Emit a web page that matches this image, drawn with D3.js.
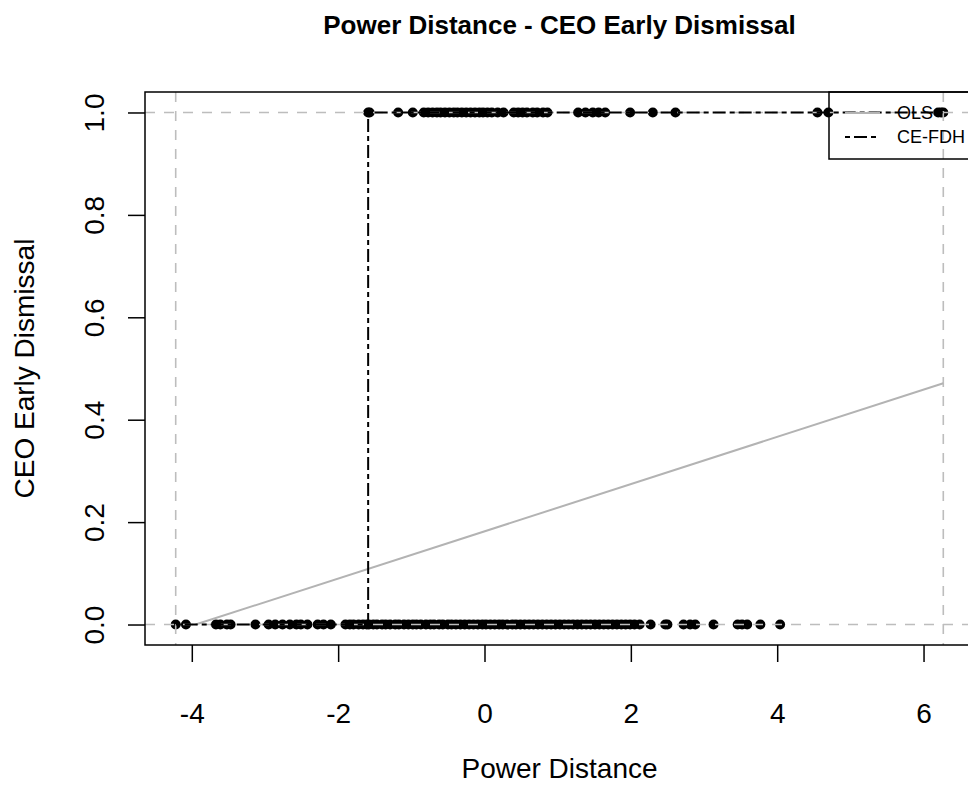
<!DOCTYPE html>
<html>
<head>
<meta charset="utf-8">
<script src="https://cdn.jsdelivr.net/npm/d3@7"></script>
<style>
  body { margin: 0; background: #fff; }
  svg { display: block; font-family: "Liberation Sans", Arial, sans-serif; }
</style>
</head>
<body>
<div id="chart"></div>
<script>
// power distance of firms where the CEO was dismissed early (y = 1)
const xDismissed = [-1.59, -1.57, -1.18, -0.98, -0.83, -0.77, -0.71, -0.65, -0.60, -0.54, -0.48,
  -0.42, -0.37, -0.31, -0.25, -0.19, -0.13, -0.07, -0.02, 0.04, 0.10, 0.18, 0.26,
  0.40, 0.46, 0.52, 0.58, 0.66, 0.72, 0.80, 0.86, 1.28, 1.38, 1.48, 1.56, 1.65,
  1.99, 2.30, 2.61, 4.55, 4.70, 6.20, 6.24, 6.27];

// power distance of firms where the CEO was not dismissed (y = 0)
const xRetained = [-4.22, -4.08, -3.67, -3.61, -3.52, -3.47, -3.13, -2.95, -2.86, -2.76, -2.66,
  -2.57, -2.51, -2.42, -2.28, -2.20, -2.10,
  -1.90, -1.84, -1.79, -1.72, -1.66, -1.61, -1.58, -1.52, -1.47, -1.40, -1.35, -1.29,
  -1.22, -1.17, -1.10, -1.04, -0.98, -0.93, -0.87, -0.80, -0.74, -0.69, -0.62, -0.57,
  -0.50, -0.45, -0.39, -0.33, -0.27, -0.21, -0.15, -0.09, -0.03, 0.02, 0.08, 0.14,
  0.20, 0.25, 0.31, 0.38, 0.43, 0.49, 0.55, 0.61, 0.67, 0.73, 0.79, 0.85, 0.91, 0.97,
  1.03, 1.09, 1.15, 1.21, 1.27, 1.33, 1.39, 1.45, 1.51, 1.57, 1.63, 1.69, 1.75, 1.81,
  1.87, 1.93, 1.99, 2.05, 2.12, 2.27, 2.47, 2.50, 2.72, 2.81, 2.88, 3.13, 3.46, 3.52,
  3.59, 3.77, 4.04];

const xTicks = [-4, -2, 0, 2, 4, 6];
const yTicks = [0, 0.2, 0.4, 0.6, 0.8, 1.0];

// fitted lines
const olsIntercept = 0.182;
const olsSlope = 0.0461;
const ceFdhStep = -1.59;

const legendItems = ["OLS", "CE-FDH"];

const width = 968, height = 785;
const plot = {left: 145, right: 974, top: 92, bottom: 645};

const points = xDismissed.map(v => ({x: v, y: 1})).concat(xRetained.map(v => ({x: v, y: 0})));
const xMin = d3.min(points, d => d.x), xMax = d3.max(points, d => d.x);
const pad = (xMax - xMin) * 0.04;

const x = d3.scaleLinear().domain([xMin - pad, xMax + pad]).range([plot.left, plot.right]);
const y = d3.scaleLinear().domain([-0.04, 1.04]).range([plot.bottom, plot.top]);

const svg = d3.select('#chart').append('svg')
    .attr('width', width)
    .attr('height', height);

// title
svg.append('text')
    .attr('x', (plot.left + plot.right) / 2)
    .attr('y', 34)
    .attr('text-anchor', 'middle')
    .style('font-weight', 'bold')
    .style('font-size', '26px')
    .text('Power Distance - CEO Early Dismissal');

// points
svg.append('g').selectAll('circle')
    .data(points)
    .enter().append('circle')
    .attr('cx', d => x(d.x))
    .attr('cy', d => y(d.y))
    .attr('r', 5)
    .style('fill', '#000');

// scope (gray dashed)
const scope = svg.append('g')
    .style('stroke', '#bdbdbd')
    .style('stroke-width', 1.6)
    .style('stroke-dasharray', '10,9')
    .style('fill', 'none');
[0, 1].forEach(v => {
    scope.append('line').attr('x1', plot.left).attr('x2', plot.right).attr('y1', y(v)).attr('y2', y(v));
});
[xMin, xMax].forEach(v => {
    scope.append('line').attr('x1', x(v)).attr('x2', x(v)).attr('y1', plot.top).attr('y2', plot.bottom);
});

// OLS line
const olsStart = -olsIntercept / olsSlope;
svg.append('line')
    .attr('x1', x(olsStart)).attr('y1', y(0))
    .attr('x2', x(xMax)).attr('y2', y(olsIntercept + olsSlope * xMax))
    .style('stroke', '#b3b3b3')
    .style('stroke-width', 2);

// CE-FDH step line
const ceFdh = [{x: xMin, y: 0}, {x: ceFdhStep, y: 0}, {x: ceFdhStep, y: 1}, {x: xMax, y: 1}];
svg.append('path')
    .datum(ceFdh)
    .attr('d', d3.line().x(d => x(d.x)).y(d => y(d.y)))
    .style('fill', 'none')
    .style('stroke', '#000')
    .style('stroke-width', 2)
    .style('stroke-dasharray', '5,4,13,4');

// axes
const xAxis = svg.append('g')
    .attr('transform', `translate(0,${plot.bottom})`)
    .call(d3.axisBottom(x).tickValues(xTicks).tickSize(17).tickPadding(41).tickFormat(d => String(d)));
xAxis.select('.domain').remove();
xAxis.selectAll('line').style('stroke', '#000').style('stroke-width', 1.5);
xAxis.selectAll('text')
    .attr('font-family', null).attr('font-size', null)
    .style('font-size', '28px').style('fill', '#000');

const yAxis = svg.append('g')
    .attr('transform', `translate(${plot.left},0)`)
    .call(d3.axisLeft(y).tickValues(yTicks).tickSize(17).tickFormat(d3.format('.1f')));
yAxis.select('.domain').remove();
yAxis.selectAll('line').style('stroke', '#000').style('stroke-width', 1.5);
yAxis.selectAll('text')
    .attr('font-family', null).attr('font-size', null)
    .attr('x', null).attr('dy', null)
    .attr('text-anchor', 'middle')
    .attr('transform', 'translate(-41,0) rotate(-90)')
    .style('font-size', '28px').style('fill', '#000');

// box
svg.append('rect')
    .attr('x', plot.left).attr('y', plot.top)
    .attr('width', plot.right - plot.left).attr('height', plot.bottom - plot.top)
    .style('fill', 'none')
    .style('stroke', '#000')
    .style('stroke-width', 1.5);

// axis titles
svg.append('text')
    .attr('x', (plot.left + plot.right) / 2)
    .attr('y', 778)
    .attr('text-anchor', 'middle')
    .style('font-size', '28px')
    .text('Power Distance');

svg.append('text')
    .attr('transform', `translate(34,${(plot.top + plot.bottom) / 2}) rotate(-90)`)
    .attr('text-anchor', 'middle')
    .style('font-size', '28px')
    .text('CEO Early Dismissal');

// legend, no fill like R's default
const legend = svg.append('g');
legend.append('rect')
    .attr('x', 829).attr('y', plot.top)
    .attr('width', plot.right - 829).attr('height', 67)
    .style('fill', 'none')
    .style('stroke', '#000')
    .style('stroke-width', 1.5);

const rows = legend.selectAll('g.item')
    .data(legendItems)
    .enter().append('g')
    .attr('class', 'item')
    .attr('transform', (d, i) => `translate(0,${113 + i * 24})`);

rows.append('line')
    .attr('x1', 845).attr('x2', 880)
    .style('stroke', d => d == 'OLS' ? '#b3b3b3' : '#000')
    .style('stroke-width', 2)
    .style('stroke-dasharray', d => d == 'OLS' ? null : '5,4,13,4');

rows.append('text')
    .attr('x', 897)
    .attr('dy', '0.35em')
    .style('font-size', '18px')
    .text(d => d);
</script>
</body>
</html>
